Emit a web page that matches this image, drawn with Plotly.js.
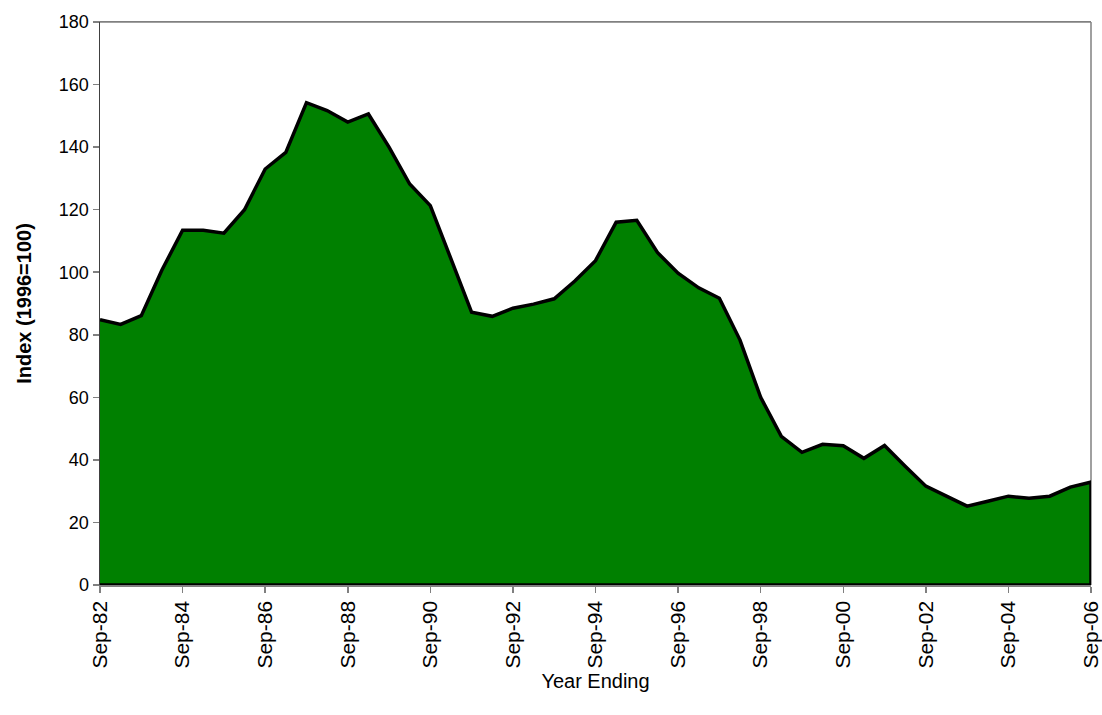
<!DOCTYPE html>
<html>
<head>
<meta charset="utf-8">
<script src="https://cdn.plot.ly/plotly-3.0.1.min.js"></script>
<style>html,body{margin:0;padding:0;background:#fff;}#chart{width:1102px;height:715px;}</style>
</head>
<body>
<div id="chart"></div>
<script>
const periods = ["Sep-82","Mar-83","Sep-83","Mar-84","Sep-84","Mar-85","Sep-85","Mar-86","Sep-86","Mar-87",
  "Sep-87","Mar-88","Sep-88","Mar-89","Sep-89","Mar-90","Sep-90","Mar-91","Sep-91","Mar-92",
  "Sep-92","Mar-93","Sep-93","Mar-94","Sep-94","Mar-95","Sep-95","Mar-96","Sep-96","Mar-97",
  "Sep-97","Mar-98","Sep-98","Mar-99","Sep-99","Mar-00","Sep-00","Mar-01","Sep-01","Mar-02",
  "Sep-02","Mar-03","Sep-03","Mar-04","Sep-04","Mar-05","Sep-05","Mar-06","Sep-06"];
const indexValues = [84.8,83.3,86.1,100.7,113.4,113.4,112.5,120.0,133.0,138.3,
  154.2,151.7,148.0,150.6,140.0,128.2,121.3,104.2,87.2,85.9,
  88.5,89.8,91.5,97.2,103.7,116.0,116.6,106.3,99.7,95.0,
  91.7,78.3,60.0,47.5,42.4,45.0,44.5,40.5,44.6,38.0,
  31.6,28.4,25.2,26.8,28.4,27.7,28.4,31.3,32.9];
const tickLabels = ["Sep-82","Sep-84","Sep-86","Sep-88","Sep-90","Sep-92","Sep-94","Sep-96","Sep-98","Sep-00","Sep-02","Sep-04","Sep-06"];
const yTicks = [0,20,40,60,80,100,120,140,160,180];

// closed polygon along the baseline (Excel-style outlined area)
const polyX = periods.concat([periods[periods.length-1], periods[0]]);
const polyY = indexValues.concat([0, 0]);

const font = "Liberation Sans, Arial, sans-serif";
Plotly.newPlot('chart', [{
  x: polyX, y: polyY, type: 'scatter', mode: 'lines',
  fill: 'toself', fillcolor: '#008000',
  line: {color: '#000000', width: 3.5},
  hoverinfo: 'skip', showlegend: false
}], {
  width: 1102, height: 715,
  margin: {l: 100, r: 11, t: 22, b: 130},
  paper_bgcolor: '#ffffff', plot_bgcolor: '#ffffff',
  showlegend: false,
  xaxis: {
    type: 'category', categoryorder: 'array', categoryarray: periods,
    range: [0, periods.length - 1], automargin: false,
    tickmode: 'array', tickvals: tickLabels, ticktext: tickLabels,
    tickangle: -90, ticks: 'outside', ticklen: 6, tickcolor: '#808080', tickwidth: 1.5,
    showgrid: false, zeroline: false,
    showline: true, linecolor: '#808080', linewidth: 1.5, mirror: true,
    tickfont: {family: font, size: 21, color: '#000'},
    title: {text: 'Year Ending', font: {family: font, size: 20, color: '#000'}, standoff: 6}
  },
  yaxis: {
    range: [0, 180], tickmode: 'array', tickvals: yTicks, automargin: false,
    ticks: 'outside', ticklen: 6, tickcolor: '#808080', tickwidth: 1.5,
    showgrid: false, zeroline: false,
    showline: true, linecolor: '#404040', linewidth: 1.5, mirror: false,
    tickfont: {family: font, size: 18, color: '#000'},
    title: {text: '<b>Index (1996=100)</b>', font: {family: font, size: 20, color: '#000'}, standoff: 22}
  },
  shapes: [
    {type: 'line', xref: 'paper', yref: 'paper', x0: 0, x1: 1, y0: 1, y1: 1, line: {color: '#808080', width: 1.5}},
    {type: 'line', xref: 'paper', yref: 'paper', x0: 1, x1: 1, y0: 0, y1: 1, line: {color: '#808080', width: 1.5}, layer: 'below'}
  ]
}, {displayModeBar: false, staticPlot: true});
</script>
</body>
</html>
